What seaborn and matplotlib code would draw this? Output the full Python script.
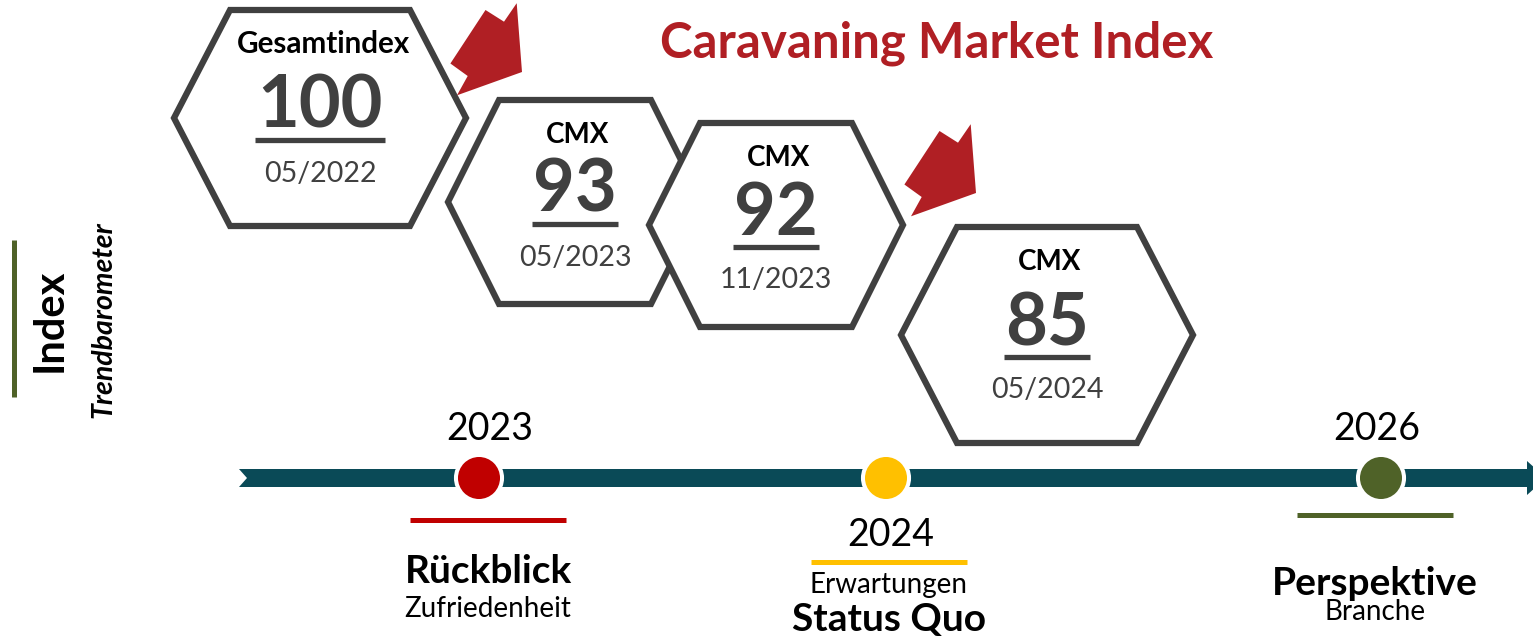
import numpy as np
import pandas as pd
import seaborn as sns
import matplotlib.pyplot as plt
from matplotlib.patches import Polygon

# index values shown in the hexagons
hex_labels = ["Gesamtindex", "CMX", "CMX", "CMX"]
hex_values = [100, 93, 92, 85]
hex_dates = ["05/2022", "05/2023", "11/2023", "05/2024"]

# timeline
years = ["2023", "2024", "2026"]
year_titles = ["Rückblick", "Status Quo", "Perspektive"]
year_subtitles = ["Zufriedenheit", "Erwartungen", "Branche"]
year_colors = ["#c00000", "#ffc000", "#4f6228"]

# layout in pixel coordinates (figure is 1533 x 637)
hex_cx = [320, 575, 776, 1047]
hex_cy = [118, 202, 225, 335]
hex_big = [True, False, False, True]
dot_x = [479, 886, 1381]
text_x = [488, 889, 1375]
year_y = [440, 546, 440]
line_y = [520, 562, 515]
title_y = [583, 631, 595]
sub_y = [617, 593, 620]

GRAY = "#404040"
RED = "#b01f24"
TEAL = "#0a4a57"

sns.set_theme(style="white")
plt.rcParams['font.family'] = ['Lato', 'DejaVu Sans']

fig = plt.figure(figsize=(15.33, 6.37), dpi=100)
ax = fig.add_axes([0, 0, 1, 1])
ax.set_xlim(0, 1533)
ax.set_ylim(637, 0)
ax.axis("off")


def hexagon(cx, cy, a, b, h, z):
    pts = [(cx - a, cy), (cx - b, cy - h), (cx + b, cy - h),
           (cx + a, cy), (cx + b, cy + h), (cx - b, cy + h)]
    ax.add_patch(Polygon(pts, closed=True, facecolor="white", edgecolor=GRAY,
                         linewidth=4.5, joinstyle="miter", zorder=z))


# hexagons with text
for i in range(len(hex_values)):
    cx, cy = hex_cx[i], hex_cy[i]
    if hex_big[i]:
        a, b, h = 146, 90, 108
    else:
        a, b, h = 127, 76, 102
    z = 2 + i
    hexagon(cx, cy, a, b, h, z)
    ax.text(cx + 3, cy - h + 43, hex_labels[i], ha="center", va="baseline",
            fontsize=20 if hex_labels[i] == "CMX" else 21.3,
            fontweight="bold", color="black", zorder=z)
    val = str(hex_values[i])
    ax.text(cx, cy + 10, val, ha="center", va="baseline",
            fontsize=52, fontweight="bold", color=GRAY, zorder=z)
    half = 21.7 * len(val)
    ax.plot([cx - half, cx + half], [cy + 22, cy + 22], color=GRAY,
            linewidth=3.8, solid_capstyle="butt", zorder=z)
    ax.text(cx, cy + 63.5, hex_dates[i], ha="center", va="baseline",
            fontsize=20.5, color=GRAY, zorder=z)

# red block arrows
arrow_shape = np.array([(-71.6, -8.5), (-36.5, -62), (-18, -50.3), (-5.3, -68.8),
                        (0, 0), (-65, 23.3), (-54.3, 4)])
for tip in [(522, 72), (976, 193)]:
    ax.add_patch(Polygon(arrow_shape + np.array(tip), closed=True,
                         facecolor=RED, edgecolor="none", zorder=10))

# title
ax.text(937, 57, "Caravaning Market Index", ha="center", va="baseline",
        fontsize=35.5, fontweight="bold", color=RED)

# timeline bar
bar = [(239, 469), (1527, 469), (1527, 461), (1546, 478), (1527, 495),
       (1527, 487), (239, 487), (247, 478)]
ax.add_patch(Polygon(bar, closed=True, facecolor=TEAL, edgecolor="none", zorder=1))

dots = pd.DataFrame({"x": dot_x, "y": [478] * len(dot_x), "year": years})
sns.scatterplot(data=dots, x="x", y="y", hue="year", palette=year_colors,
                s=1100, edgecolor="white", linewidth=2.9, legend=False,
                ax=ax, zorder=5)

for i in range(len(years)):
    x = text_x[i]
    ax.text(x + 2, year_y[i], years[i], ha="center", va="baseline",
            fontsize=27, color="black")
    ax.plot([x - 78, x + 78], [line_y[i], line_y[i]], color=year_colors[i],
            linewidth=3.6, solid_capstyle="butt")
    ax.text(x, title_y[i], year_titles[i], ha="center", va="baseline",
            fontsize=28, fontweight="bold", color="black")
    ax.text(x, sub_y[i], year_subtitles[i], ha="center", va="baseline",
            fontsize=20, color="black")

# left side label
ax.plot([13.5, 13.5], [240, 397], color="#4f6228", linewidth=3.6,
        solid_capstyle="butt")
ax.text(50, 320, "Index", rotation=90, ha="center", va="center",
        fontsize=30, fontweight="bold", color="black")
ax.text(103, 320, "Trendbarometer", rotation=90, ha="center", va="center",
        fontsize=20.5, fontweight="bold", fontstyle="italic", color="black")

ax.set_xlabel("")
ax.set_ylabel("")
fig.savefig("out.png", dpi=100)
